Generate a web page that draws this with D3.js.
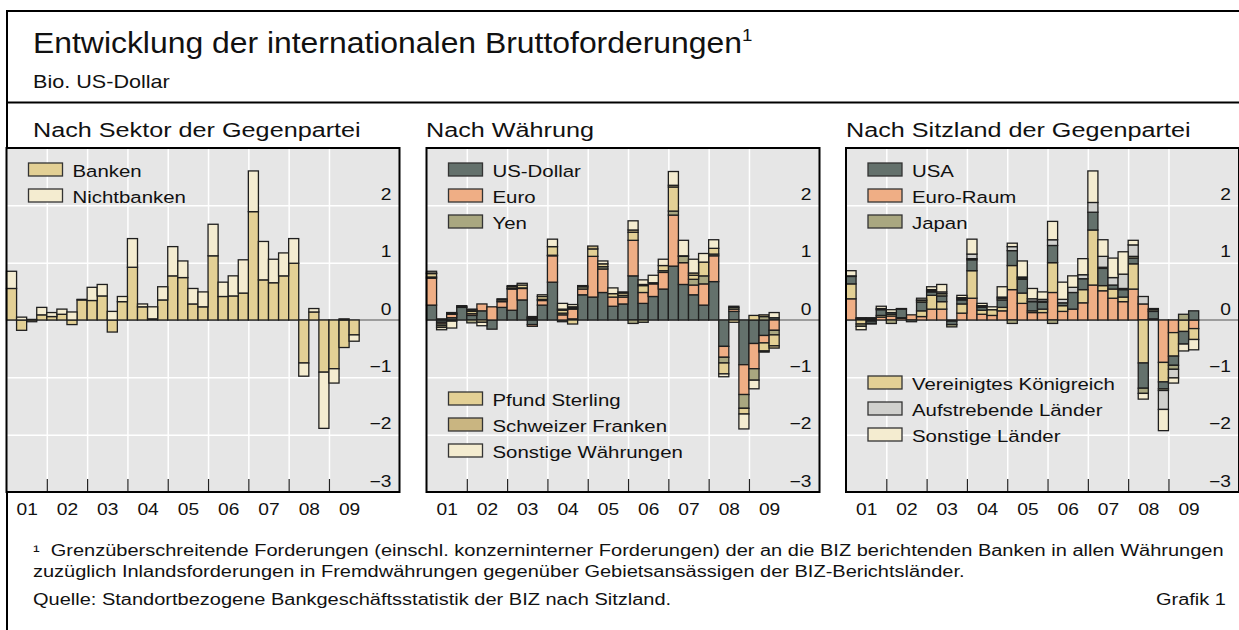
<html>
    <head>
        <title>Entwicklung der internationalen Bruttoforderungen</title>
        <style>
            body { margin: 0; background: #fff; }
            .chart text {
                font-family: "Liberation Sans", Arial, sans-serif;
                fill: #111;
            }
            .chart .domain { display: none; }
        </style>
    </head>
    <body>
        <svg class="chart" width="1239" height="630"></svg>
        <script src="https://d3js.org/d3.v7.min.js"></script>
        <script>

            // quarterly changes, bn US dollars
            var quarters = ["2001Q1","2001Q2","2001Q3","2001Q4","2002Q1","2002Q2","2002Q3","2002Q4",
                            "2003Q1","2003Q2","2003Q3","2003Q4","2004Q1","2004Q2","2004Q3","2004Q4",
                            "2005Q1","2005Q2","2005Q3","2005Q4","2006Q1","2006Q2","2006Q3","2006Q4",
                            "2007Q1","2007Q2","2007Q3","2007Q4","2008Q1","2008Q2","2008Q3","2008Q4",
                            "2009Q1","2009Q2","2009Q3"];

            // Nach Sektor der Gegenpartei
            var banken      = [0.55,-0.18,-0.03,0.09,0.06,0.10,-0.08,0.35,0.34,0.42,-0.21,0.32,0.92,0.23,0.02,0.35,0.77,0.74,0.28,0.23,1.12,0.41,0.42,0.47,1.89,0.70,0.65,0.77,0.99,-0.75,0.14,-0.91,-0.85,-0.48,-0.26];
            var nichtbanken = [0.30,0.05,0.01,0.13,0.07,0.09,0.14,0.01,0.23,0.20,0.15,0.09,0.50,0.05,0.21,0.23,0.51,0.29,0.27,0.26,0.55,0.25,0.35,0.58,0.71,0.67,0.41,0.40,0.43,-0.23,0.06,-0.98,-0.25,0.02,-0.11];

            // Nach Währung
            var usDollar  = [0.26,-0.04,0.04,0.22,0.08,0.16,-0.16,0.22,0.17,0.35,-0.08,0.26,0.66,-0.03,0.02,0.44,0.40,0.48,0.24,0.28,0.77,0.29,0.41,0.54,0.94,0.62,0.44,0.26,0.67,-0.46,0.15,-0.78,-0.41,-0.27,0.04];
            var euro      = [0.47,-0.03,0.06,0.00,0.03,0.12,0.23,0.10,0.37,0.20,-0.03,0.08,0.46,0.09,0.17,0.10,0.71,0.41,0.16,0.12,0.62,0.19,0.22,0.29,0.89,0.38,0.17,0.37,0.45,-0.19,0.04,-0.52,-0.44,-0.13,-0.18];
            var yen       = [0.02,-0.03,0.01,0.00,-0.05,0.00,0.00,0.00,0.01,0.01,0.02,0.02,0.01,0.03,0.02,0.04,0.00,0.04,0.00,0.03,-0.06,-0.04,0.02,0.03,0.07,0.11,0.10,0.14,0.03,-0.10,0.03,-0.24,-0.20,0.06,-0.08];
            var pfund     = [0.06,-0.03,0.02,0.01,0.04,-0.04,0.00,0.03,0.03,0.05,0.02,0.05,0.15,0.05,-0.07,0.00,0.13,0.05,0.06,0.04,0.14,0.12,0.00,0.09,0.42,0.01,0.07,0.24,0.10,-0.19,-0.04,-0.10,0.08,-0.14,-0.19];
            var franken   = [0.01,0.02,-0.02,0.00,0.02,0.00,0.00,0.00,0.00,0.00,0.00,0.00,0.00,0.02,0.02,0.00,0.05,0.00,0.00,0.00,0.04,0.02,0.00,0.00,0.03,0.00,0.04,0.00,0.00,0.00,0.02,0.00,0.00,0.03,-0.04];
            var sonstigeW = [0.03,-0.04,-0.12,0.02,0.02,-0.06,0.00,0.02,0.02,0.03,0.02,0.03,0.13,0.10,0.04,0.02,0.00,0.05,0.10,0.02,0.16,0.08,0.13,0.11,0.24,0.27,0.24,0.15,0.15,-0.05,0.00,-0.26,-0.15,-0.02,0.09];

            // Nach Sitzland der Gegenpartei
            var usa        = [0.13,0.02,-0.04,0.10,0.03,0.15,-0.03,0.15,0.06,0.10,-0.06,0.07,0.19,0.05,0.00,0.13,0.26,0.24,0.16,0.12,0.30,0.05,0.29,0.19,0.31,0.30,0.07,0.13,0.10,-0.44,0.13,-0.12,-0.16,-0.22,0.16];
            var euroRaum   = [0.37,0.02,-0.02,0.05,0.07,0.03,0.09,0.06,0.19,0.19,-0.02,0.12,0.38,0.10,0.08,0.16,0.53,0.29,0.13,0.13,0.48,0.15,0.19,0.30,0.61,0.51,0.38,0.32,0.54,0.28,0.02,-0.74,-0.22,0.00,-0.15];
            var japan      = [0.01,-0.04,-0.01,0.00,-0.06,0.00,0.00,0.03,0.02,0.04,-0.04,0.02,0.02,0.02,0.00,0.03,-0.06,0.02,0.01,0.02,-0.06,0.00,0.00,0.00,0.00,0.02,0.00,0.02,0.03,-0.09,0.03,-0.03,-0.07,0.10,0.00];
            var vk         = [0.26,-0.07,0.02,0.03,0.03,0.01,0.00,0.10,0.24,0.13,0.00,0.16,0.48,0.07,0.10,0.06,0.42,0.18,0.03,0.06,0.52,0.10,0.00,0.23,0.96,0.09,0.16,0.08,0.44,-0.75,0.00,-0.34,-0.41,-0.20,-0.19];
            var aufstrebend= [0.00,0.00,0.00,0.02,0.00,0.00,0.00,0.01,0.02,0.03,0.00,0.02,0.08,0.01,0.00,0.02,0.07,0.02,0.04,0.03,0.10,0.06,0.09,0.07,0.17,0.19,0.13,0.25,0.20,0.13,0.00,-0.33,-0.15,0.00,0.00];
            var sonstigeL  = [0.09,-0.06,0.02,0.04,0.05,0.01,0.00,0.03,0.05,0.13,0.00,0.04,0.26,0.04,0.05,0.18,0.06,0.28,0.18,0.13,0.32,0.30,0.20,0.28,0.55,0.29,0.34,0.39,0.08,-0.10,0.02,-0.37,-0.09,-0.12,-0.18];

            var yearTicks = [2002, 2003, 2004, 2005, 2006, 2007, 2008, 2009];
            var yearLabels = ["01", "02", "03", "04", "05", "06", "07", "08", "09"];
            var valueTicks = [-3, -2, -1, 0, 1, 2];
            var gridValues = [-2, -1, 1, 2];

            var SX = 1.2; // the reference type is set wider than it is tall
            var plotTop = 148, plotBottom = 492, plotWidth = 393;

            var c = {
                dark: '#64716c', salmon: '#efae85', olive: '#a9a780', tan: '#e3d095',
                chf: '#c9b581', cream: '#f4ecd0', grey: '#d0d0cd'
            };

            var panels = [
                {
                    left: 6.5, titleX: 33, title: 'Nach Sektor der Gegenpartei',
                    series: [
                        {name: 'Banken', values: banken, color: c.tan},
                        {name: 'Nichtbanken', values: nichtbanken, color: c.cream}
                    ],
                    order: ['Banken', 'Nichtbanken'],
                    legends: [{y: 163, names: ['Banken', 'Nichtbanken']}]
                },
                {
                    left: 426.5, titleX: 426, title: 'Nach Währung',
                    series: [
                        {name: 'US-Dollar', values: usDollar, color: c.dark},
                        {name: 'Euro', values: euro, color: c.salmon},
                        {name: 'Yen', values: yen, color: c.olive},
                        {name: 'Pfund Sterling', values: pfund, color: c.tan},
                        {name: 'Schweizer Franken', values: franken, color: c.chf},
                        {name: 'Sonstige Währungen', values: sonstigeW, color: c.cream}
                    ],
                    order: ['US-Dollar', 'Euro', 'Yen', 'Pfund Sterling', 'Schweizer Franken', 'Sonstige Währungen'],
                    legends: [
                        {y: 163, names: ['US-Dollar', 'Euro', 'Yen']},
                        {y: 392, names: ['Pfund Sterling', 'Schweizer Franken', 'Sonstige Währungen']}
                    ]
                },
                {
                    left: 846, titleX: 846, title: 'Nach Sitzland der Gegenpartei',
                    series: [
                        {name: 'USA', values: usa, color: c.dark},
                        {name: 'Euro-Raum', values: euroRaum, color: c.salmon},
                        {name: 'Japan', values: japan, color: c.olive},
                        {name: 'Vereinigtes Königreich', values: vk, color: c.tan},
                        {name: 'Aufstrebende Länder', values: aufstrebend, color: c.grey},
                        {name: 'Sonstige Länder', values: sonstigeL, color: c.cream}
                    ],
                    order: ['Euro-Raum', 'Vereinigtes Königreich', 'USA', 'Japan', 'Aufstrebende Länder', 'Sonstige Länder'],
                    legends: [
                        {y: 163, names: ['USA', 'Euro-Raum', 'Japan']},
                        {y: 376, names: ['Vereinigtes Königreich', 'Aufstrebende Länder', 'Sonstige Länder']}
                    ]
                }
            ];

            var chart = d3.select('.chart');

            // widen text horizontally around its anchor x
            function stretch(sel, sx) {
                sel.attr('transform', function() {
                    var x = +this.getAttribute('x') || 0;
                    return 'translate(' + x + ',0) scale(' + (sx || SX) + ',1) translate(' + (-x) + ',0)';
                });
            }

            function qStart(q) {
                return +q.slice(0, 4) + (+q.slice(5) - 1) / 4;
            }

            // outer frame
            chart.append('path')
                .attr('d', 'M1239,11 H7 V630 M7,102.5 H1239')
                .style('fill', 'none').style('stroke', '#000').style('stroke-width', 2);

            var title = chart.append('text')
                .attr('x', 33).attr('y', 53)
                .style('font-size', '29px')
                .text('Entwicklung der internationalen Bruttoforderungen');
            title.append('tspan').attr('dy', -12).style('font-size', '17px').text('1');
            stretch(title, 1.1);

            chart.append('text')
                .attr('x', 33).attr('y', 88)
                .style('font-size', '18px')
                .text('Bio. US-Dollar')
                .call(stretch);

            panels.forEach(drawPanel);

            function drawPanel(p) {
                var x = d3.scaleLinear().domain([2001, 2010.75]).range([p.left, p.left + plotWidth]);
                var y = d3.scaleLinear().domain([-3, 3]).range([plotBottom, plotTop]);
                var colorOf = {};
                p.series.forEach(function(s) { colorOf[s.name] = s.color; });

                var g = chart.append('g');

                g.append('text')
                    .attr('x', p.titleX).attr('y', 137)
                    .style('font-size', '21px')
                    .text(p.title)
                    .call(stretch);

                g.append('rect')
                    .attr('x', p.left).attr('y', plotTop)
                    .attr('width', plotWidth).attr('height', plotBottom - plotTop)
                    .style('fill', '#e6e6e6');

                // white grid
                g.append('g')
                    .attr('transform', 'translate(0,' + plotBottom + ')')
                    .call(d3.axisBottom(x).tickValues(yearTicks).tickSize(-(plotBottom - plotTop)).tickFormat(''));
                g.append('g')
                    .attr('transform', 'translate(' + p.left + ',0)')
                    .call(d3.axisLeft(y).tickValues(gridValues).tickSize(-plotWidth).tickFormat(''));
                g.selectAll('.tick line').style('stroke', '#fff').style('stroke-width', 1.5);

                g.append('line')
                    .attr('x1', p.left).attr('x2', p.left + plotWidth)
                    .attr('y1', y(0)).attr('y2', y(0))
                    .style('stroke', '#555').style('stroke-width', 1);

                var rows = quarters.map(function(q, i) {
                    var r = {quarter: q};
                    p.series.forEach(function(s) { r[s.name] = s.values[i]; });
                    return r;
                });
                var stacked = d3.stack().keys(p.order).offset(d3.stackOffsetDiverging)(rows);

                var layers = g.selectAll('.layer')
                    .data(stacked)
                    .enter()
                    .append('g')
                    .attr('class', 'layer')
                    .style('fill', function(d) { return colorOf[d.key]; });

                layers.selectAll('rect')
                    .data(function(d) { return d.filter(function(s) { return s[1] !== s[0]; }); })
                    .enter()
                    .append('rect')
                    .attr('x', function(d) { return x(qStart(d.data.quarter)); })
                    .attr('width', function(d) { return x(qStart(d.data.quarter) + 0.25) - x(qStart(d.data.quarter)); })
                    .attr('y', function(d) { return y(d[1]); })
                    .attr('height', function(d) { return y(d[0]) - y(d[1]); })
                    .style('stroke', '#1e1e1e')
                    .style('stroke-width', 1.3);

                // year ticks along the bottom
                g.append('g')
                    .attr('transform', 'translate(0,' + plotBottom + ')')
                    .call(d3.axisBottom(x).tickValues(yearTicks).tickSize(-13).tickFormat(''))
                    .selectAll('line').style('stroke', '#222').style('stroke-width', 1.2);

                var yearAxis = g.append('g')
                    .attr('transform', 'translate(0,' + plotBottom + ')')
                    .call(d3.axisBottom(x)
                        .tickValues(yearLabels.map(function(l) { return 2000 + +l + 0.5; }))
                        .tickSize(0).tickPadding(12)
                        .tickFormat(function(d, i) { return yearLabels[i]; }));
                yearAxis.selectAll('text')
                    .style('font-size', '16px').style('font-family', '"Liberation Sans", Arial, sans-serif').style('fill', '#111')
                    .call(stretch);

                var valueAxis = g.append('g')
                    .attr('transform', 'translate(' + (p.left + plotWidth - 8) + ',0)')
                    .call(d3.axisLeft(y).tickValues(valueTicks).tickSize(0).tickPadding(0)
                        .tickFormat(function(d) { return d < 0 ? '\u2212' + (-d) : String(d); }));
                valueAxis.selectAll('text')
                    .attr('dy', null).attr('y', -6)
                    .style('font-size', '16px').style('font-family', '"Liberation Sans", Arial, sans-serif').style('fill', '#111')
                    .call(stretch);

                g.append('rect')
                    .attr('x', p.left).attr('y', plotTop)
                    .attr('width', plotWidth).attr('height', plotBottom - plotTop)
                    .style('fill', 'none').style('stroke', '#000').style('stroke-width', 2);

                p.legends.forEach(function(lg) {
                    var items = g.selectAll(null)
                        .data(lg.names)
                        .enter()
                        .append('g')
                        .attr('transform', function(d, i) { return 'translate(0,' + (lg.y + i * 26) + ')'; });
                    items.append('rect')
                        .attr('x', p.left + 22).attr('width', 34).attr('height', 13)
                        .style('fill', function(d) { return colorOf[d]; })
                        .style('stroke', '#333').style('stroke-width', 1.3);
                    items.append('text')
                        .attr('x', p.left + 66).attr('y', 13.5)
                        .style('font-size', '17px')
                        .text(function(d) { return d; })
                        .call(stretch);
                });
            }

            // footnote and source
            var noteStretch = 1.25;
            chart.append('text')
                .attr('x', 33).attr('y', 556)
                .style('font-size', '16px')
                .text('\u00b9\u00a0\u00a0Grenzüberschreitende Forderungen (einschl. konzerninterner Forderungen) der an die BIZ berichtenden Banken in allen Währungen')
                .call(stretch, noteStretch);
            chart.append('text')
                .attr('x', 33).attr('y', 577)
                .style('font-size', '16px')
                .text('zuzüglich Inlandsforderungen in Fremdwährungen gegenüber Gebietsansässigen der BIZ-Berichtsländer.')
                .call(stretch, noteStretch);
            chart.append('text')
                .attr('x', 33).attr('y', 605)
                .style('font-size', '16px')
                .text('Quelle: Standortbezogene Bankgeschäftsstatistik der BIZ nach Sitzland.')
                .call(stretch, noteStretch);
            chart.append('text')
                .attr('x', 1226).attr('y', 605)
                .style('font-size', '16px').style('text-anchor', 'end')
                .text('Grafik 1')
                .call(stretch, noteStretch);

        </script>
    </body>
</html>
